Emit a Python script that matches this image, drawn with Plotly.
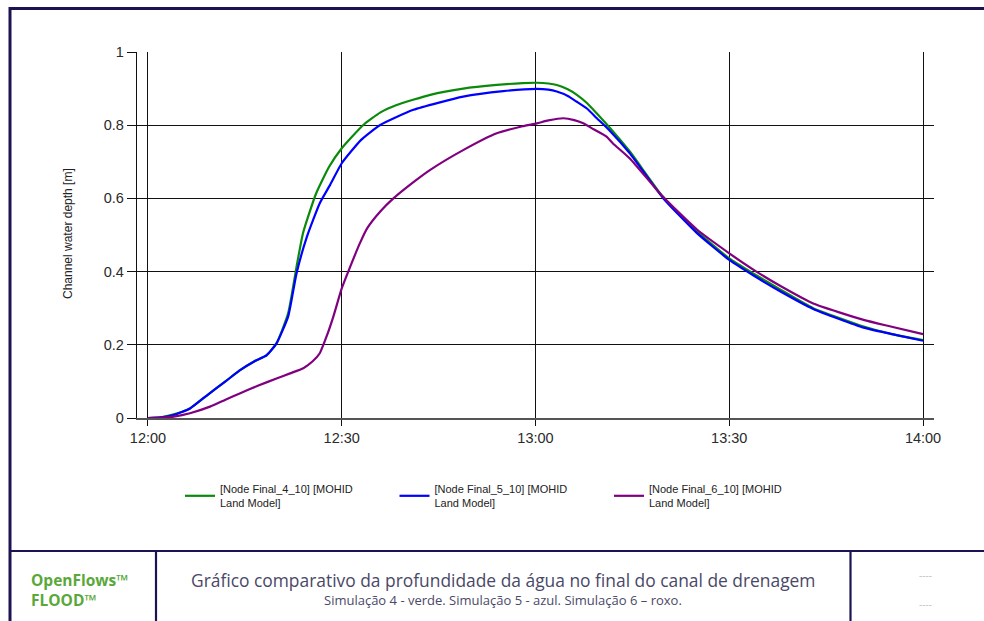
import pandas as pd
import plotly.graph_objects as go

# ---------------- data (minutes after 12:00, depth in m) ----------------
t_sim4 = [0, 2, 4, 6.5, 9, 12, 14.2, 16.5, 18.4, 19.9, 21.7, 23, 24, 26, 28, 30, 33.3, 36,
          38.5, 43.7, 48.8, 54, 58, 60.2, 62, 63.3, 65, 66.4, 68, 69.5, 71.5, 74.6, 79.7,
          85, 90, 93.7, 98, 103, 110.8, 115, 120]
d_sim4 = [0, 0.002, 0.01, 0.026, 0.06, 0.10, 0.13, 0.155, 0.172, 0.204, 0.286, 0.413, 0.505,
          0.612, 0.685, 0.737, 0.80, 0.835, 0.855, 0.883, 0.90, 0.91, 0.915, 0.916, 0.914,
          0.91, 0.898, 0.883, 0.86, 0.832, 0.793, 0.728, 0.605, 0.51, 0.436, 0.395, 0.35,
          0.30, 0.25, 0.23, 0.213]

t_sim5 = [0, 2, 4, 6.5, 9, 12, 14.2, 16.5, 18.4, 19.9, 21.7, 23, 24.6, 26.6, 28.2, 30, 33,
          35.9, 41.1, 48.8, 55, 60.2, 62, 63.3, 65, 66.4, 68, 69.5, 71.5, 74.6, 79.7, 85, 90,
          93.7, 98, 103, 110.8, 115, 120]
d_sim5 = [0, 0.002, 0.008, 0.026, 0.06, 0.10, 0.13, 0.155, 0.172, 0.204, 0.277, 0.395, 0.495,
          0.587, 0.637, 0.696, 0.76, 0.80, 0.842, 0.878, 0.893, 0.899, 0.897, 0.892, 0.88,
          0.864, 0.845, 0.819, 0.785, 0.723, 0.602, 0.505, 0.432, 0.39, 0.345, 0.298, 0.247,
          0.23, 0.211]

t_sim6 = [0, 2, 4, 6.5, 9.6, 12, 14.2, 17, 19.9, 22, 24.05, 25.5, 26.6, 27.7, 28.7, 30, 31.3,
          32.8, 34, 36, 38, 41, 43.7, 48.8, 54, 58, 60.2, 62, 64.3, 66, 67.4, 69, 71, 72, 74.6,
          79.7, 85, 90, 94.2, 98, 103, 110.8, 115, 120]
d_sim6 = [0, 0.001, 0.004, 0.013, 0.031, 0.05, 0.067, 0.088, 0.108, 0.122, 0.136, 0.155, 0.177,
          0.225, 0.277, 0.354, 0.413, 0.477, 0.52, 0.565, 0.60, 0.643, 0.678, 0.732, 0.778,
          0.797, 0.805, 0.813, 0.819, 0.814, 0.805, 0.789, 0.769, 0.75, 0.709, 0.605, 0.515,
          0.45, 0.40, 0.36, 0.313, 0.268, 0.25, 0.229]

series_names = ["[Node Final_4_10] [MOHID<br>Land Model]",
                "[Node Final_5_10] [MOHID<br>Land Model]",
                "[Node Final_6_10] [MOHID<br>Land Model]"]
series_colors = ["#0a8a0a", "#0000ff", "#800080"]

y_ticks = [0, 0.2, 0.4, 0.6, 0.8, 1]
y_ticktext = ["0", "0.2", "0.4", "0.6", "0.8", "1"]
x_tick_minutes = [0, 30, 60, 90, 120]
x_ticktext = ["12:00", "12:30", "13:00", "13:30", "14:00"]

y_title = "Channel water depth [m]"
footer_brand = "OpenFlows™<br>FLOOD™"
footer_title = "Gráfico comparativo da profundidade da água no final do canal de drenagem"
footer_sub = "Simulação 4 - verde. Simulação 5 - azul. Simulação 6 – roxo."

base = pd.Timestamp("2024-01-01 12:00:00")


def to_time(mins):
    return [base + pd.Timedelta(minutes=m) for m in mins]


# ---------------- layout geometry ----------------
W, H = 984, 621
L, R, T, B = 137, 934, 52, 418   # plot area in pixels


def px(x):
    return (x - L) / (R - L)


def py(y):
    return (B - y) / (B - T)


fig = go.Figure()
for tt, dd, name, col in zip([t_sim4, t_sim5, t_sim6], [d_sim4, d_sim5, d_sim6],
                             series_names, series_colors):
    fig.add_trace(go.Scatter(x=to_time(tt), y=dd, mode="lines", name=name,
                             line=dict(color=col, width=2.2, shape="spline", smoothing=0.5)))

grid_col = "#111111"
tick_font = dict(family="Liberation Sans, Arial, sans-serif", size=14.5, color="#2a2a2a")

fig.update_layout(
    width=W, height=H,
    margin=dict(l=L, r=W - R, t=T, b=H - B, autoexpand=False),
    paper_bgcolor="white", plot_bgcolor="white",
    showlegend=True,
    legend=dict(orientation="h", x=px(180), y=py(475), xanchor="left", yanchor="top",
                font=dict(family="Liberation Sans, Arial", size=11, color="#222"),
                entrywidth=169.5, entrywidthmode="pixels", tracegroupgap=0,
                bgcolor="rgba(0,0,0,0)", valign="middle"),
    xaxis=dict(type="date",
               range=[base + pd.Timedelta(minutes=-1.7), base + pd.Timedelta(minutes=121.7)],
               tickvals=to_time(x_tick_minutes), ticktext=x_ticktext,
               showgrid=True, gridcolor=grid_col, gridwidth=1.4,
               showline=True, linecolor="#555", linewidth=1.6,
               ticks="outside", ticklen=6, tickcolor=grid_col, tickwidth=1.4,
               tickfont=tick_font, zeroline=False),
    yaxis=dict(range=[0, 1], tickvals=y_ticks, ticktext=y_ticktext,
               showgrid=True, gridcolor=grid_col, gridwidth=1.4,
               showline=True, linecolor=grid_col, linewidth=1.4,
               ticks="outside", ticklen=9, tickcolor=grid_col, tickwidth=1.4,
               tickfont=tick_font, zeroline=False),
)

# y-axis title
fig.add_annotation(text=y_title, xref="paper", yref="paper", x=px(68), y=py(234),
                   textangle=-90, showarrow=False, xanchor="center", yanchor="middle",
                   font=dict(family="Liberation Sans, Arial", size=12, color="#222"))

# frame & footer lines
navy = "#1c1452"
shapes = [
    dict(type="line", x0=px(10), x1=px(990), y0=py(8.5), y1=py(8.5), line=dict(color=navy, width=3)),
    dict(type="line", x0=px(10), x1=px(10), y0=py(7), y1=py(630), line=dict(color=navy, width=3)),
    dict(type="line", x0=px(10), x1=px(990), y0=py(551), y1=py(551), line=dict(color=navy, width=2.2)),
    dict(type="line", x0=px(156), x1=px(156), y0=py(551), y1=py(630), line=dict(color=navy, width=2.2)),
    dict(type="line", x0=px(850.5), x1=px(850.5), y0=py(551), y1=py(630), line=dict(color=navy, width=2.2)),
]
for s in shapes:
    s.update(xref="paper", yref="paper", layer="above")
    fig.add_shape(**s)

footer_font = "Open Sans, Lato, sans-serif"
fig.add_annotation(text=footer_brand, xref="paper", yref="paper", x=px(29), y=py(590),
                   xanchor="left", yanchor="middle", align="left", showarrow=False,
                   font=dict(family=footer_font, size=15.5, color="#5aa83a", weight="bold"))
fig.add_annotation(text=footer_title, xref="paper", yref="paper", x=px(503), y=py(580),
                   xanchor="center", yanchor="middle", showarrow=False,
                   font=dict(family=footer_font, size=17.4, color="#4a4868"))
fig.add_annotation(text=footer_sub, xref="paper", yref="paper", x=px(503), y=py(600),
                   xanchor="center", yanchor="middle", showarrow=False,
                   font=dict(family=footer_font, size=13, color="#4a4868"))
for yy in (575, 604):
    fig.add_annotation(text="----", xref="paper", yref="paper", x=px(925), y=py(yy),
                       xanchor="center", yanchor="middle", showarrow=False,
                       font=dict(family=footer_font, size=10, color="#c0c0c0"))

fig.write_html("out.html",
               config={"displayModeBar": False},
               post_script="document.body.style.margin='0';"
                           "document.body.style.overflow='hidden';")
